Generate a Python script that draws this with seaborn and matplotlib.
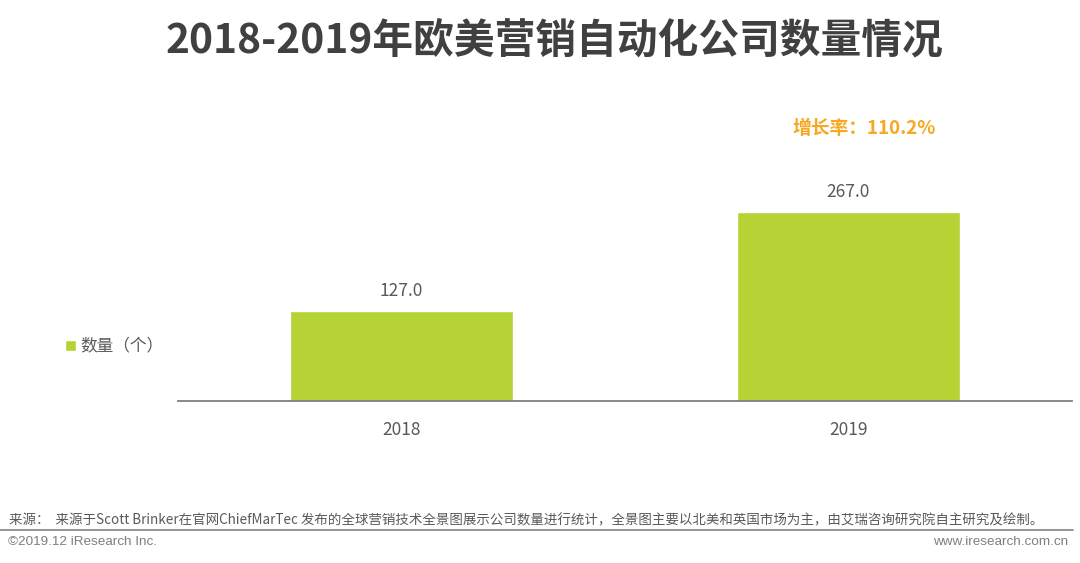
import matplotlib
matplotlib.use("Agg")
import matplotlib.pyplot as plt
import seaborn as sns
import pandas as pd

years = ["2018", "2019"]
counts = [127.0, 267.0]
series_name = "数量（个）"
growth_label = "增长率：110.2%"
title = "2018-2019年欧美营销自动化公司数量情况"
source_note = ("来源：  来源于Scott Brinker在官网ChiefMarTec 发布的全球营销技术全景图展示公司数量进行统计，"
               "全景图主要以北美和英国市场为主，由艾瑞咨询研究院自主研究及绘制。")
copyright_note = "©2019.12 iResearch Inc."
site_note = "www.iresearch.com.cn"

bar_color = "#B5D334"
text_gray = "#595959"
orange = "#F7A823"

sns.set_theme(style="white")
plt.rcParams["font.family"] = ["Noto Sans CJK SC", "DejaVu Sans"]

df = pd.DataFrame({"year": years, "count": counts})

fig = plt.figure(figsize=(10.8, 5.63), dpi=100)
ax = fig.add_axes([178 / 1080, 1 - 401.3 / 563, (1072 - 178) / 1080, 212.7 / 563])

sns.barplot(data=df, x="year", y="count", color=bar_color, width=0.5,
            saturation=1, label=series_name, ax=ax)
ax.set_xlim(-0.5, 1.5)
ax.set_ylim(0, 300)

for c in ax.containers:
    ax.bar_label(c, fmt="%.1f", padding=8, fontsize=12.5, color=text_gray)

ax.text(1.034, 385, growth_label, ha="center", va="center", fontsize=13.5,
        fontweight="bold", color=orange)

sns.despine(ax=ax, left=True, top=True, right=True)
ax.spines["bottom"].set_color("#7f7f7f")
ax.spines["bottom"].set_linewidth(1.3)
ax.set_yticks([])
ax.set_xlabel("")
ax.set_ylabel("")
ax.tick_params(axis="x", length=0, pad=14, labelsize=12.5, labelcolor=text_gray)

ax.legend(loc="center left", bbox_to_anchor=(50 / 1080, 1 - 347 / 563),
          bbox_transform=fig.transFigure, frameon=False, fontsize=12,
          handlelength=0.65, handleheight=0.65, handletextpad=0.25,
          labelcolor=text_gray)

fig.text(0.513, 1 - 42 / 563, title, ha="center", va="center", fontsize=29.3,
         fontweight="bold", color="#404040")

fig.text(9 / 1080, 1 - 520 / 563, source_note, ha="left", va="center",
         fontsize=9.7, color=text_gray)
fig.add_artist(plt.Line2D([0, 1073 / 1080], [1 - 530 / 563, 1 - 530 / 563],
                          transform=fig.transFigure, color="#8c8c8c", linewidth=1.3))
fig.text(8 / 1080, 1 - 542 / 563, copyright_note, ha="left", va="center",
         fontsize=9.7, color="#7f7f7f", family=["Liberation Sans", "DejaVu Sans"])
fig.text(1068 / 1080, 1 - 542 / 563, site_note, ha="right", va="center",
         fontsize=9.7, color="#7f7f7f", family=["Liberation Sans", "DejaVu Sans"])

fig.savefig("out.png", dpi=100)
